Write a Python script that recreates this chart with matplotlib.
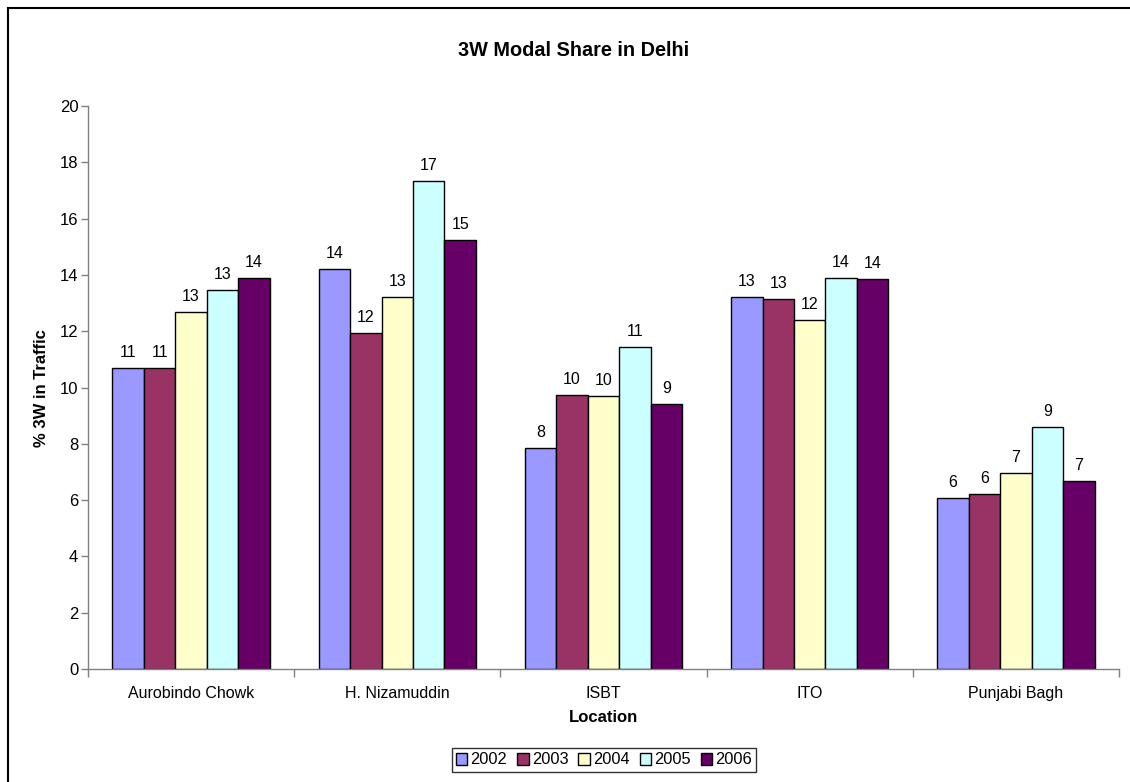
import matplotlib
matplotlib.use("Agg")
import matplotlib.pyplot as plt
import matplotlib.patches as mpatches
import numpy as np

plt.rcParams['font.family'] = ['Liberation Sans', 'DejaVu Sans']

locations = ["Aurobindo Chowk", "H. Nizamuddin", "ISBT", "ITO", "Punjabi Bagh"]
years = ["2002", "2003", "2004", "2005", "2006"]
share_2002 = [10.69, 14.21, 7.85, 13.21, 6.07]
share_2003 = [10.69, 11.94, 9.73, 13.14, 6.22]
share_2004 = [12.68, 13.21, 9.70, 12.40, 6.96]
share_2005 = [13.46, 17.34, 11.44, 13.89, 8.60]
share_2006 = [13.89, 15.24, 9.41, 13.85, 6.68]
colors = ["#9999FF", "#993366", "#FFFFCC", "#CCFFFF", "#660066"]

series = [share_2002, share_2003, share_2004, share_2005, share_2006]

W, H = 1130, 782
FS = 11.5
fig = plt.figure(figsize=(W / 100, H / 100), dpi=100)
ax = fig.add_axes([88 / W, (H - 669) / H, (1119 - 88) / W, (669 - 106) / H])

n = len(series)
bar_w = 0.1525
x = np.arange(len(locations))
for i, (vals, col, yr) in enumerate(zip(series, colors, years)):
    pos = x + (i - (n - 1) / 2) * bar_w
    bars = ax.bar(pos, vals, width=bar_w, color=col, edgecolor="black",
                  linewidth=1.0, label=yr, zorder=2)
    for b, v in zip(bars, vals):
        ax.annotate(f"{v:.0f}", (b.get_x() + b.get_width() / 2, v),
                    xytext=(0, 5.5), textcoords="offset points",
                    ha="center", va="bottom", fontsize=FS)

ax.set_xlim(-0.5, len(locations) - 0.5)
ax.set_ylim(0, 20)
ax.set_yticks(np.arange(0, 21, 2))
ax.tick_params(axis="y", direction="out", length=5, width=1, color="#808080",
               labelsize=FS + 0.5, pad=2)
ax.set_xticks(x)
ax.set_xticklabels(locations, fontsize=FS)
ax.tick_params(axis="x", length=0, pad=12)
# category boundary ticks
ax.set_xticks(np.arange(-0.5, len(locations)), minor=True)
ax.tick_params(axis="x", which="minor", direction="out", length=6, width=1,
               color="#808080")

for s in ["top", "right"]:
    ax.spines[s].set_visible(False)
for s in ["left", "bottom"]:
    ax.spines[s].set_color("#808080")
    ax.spines[s].set_linewidth(1.0)

fig.text(41.5 / W, 1 - 388 / H, "% 3W in Traffic", rotation=90, ha="center",
         va="center", fontsize=12, fontweight="bold")
fig.text(603 / W, 1 - 718 / H, "Location", ha="center", va="center",
         fontsize=12, fontweight="bold")
fig.text(574 / W, 1 - 50 / H, "3W Modal Share in Delhi", ha="center",
         va="center", fontsize=14.3, fontweight="bold")

handles = [mpatches.Patch(facecolor=c, edgecolor="black", linewidth=1.0, label=y)
           for c, y in zip(colors, years)]
leg = fig.legend(handles=handles, loc="center", bbox_to_anchor=(604 / W, 1 - 760 / H),
                 ncol=5, fontsize=FS + 0.3, frameon=True, fancybox=False,
                 handlelength=0.7, handleheight=0.7, handletextpad=0.2,
                 columnspacing=0.6, borderpad=0.25, borderaxespad=0)
leg.get_frame().set_edgecolor("black")
leg.get_frame().set_linewidth(1.0)

# chart border
fig.patches.append(mpatches.Rectangle((8 / W, -0.1), 1.2, (H - 8) / H + 0.1,
                                      transform=fig.transFigure, fill=False,
                                      edgecolor="black", linewidth=1.5))

fig.savefig("out.png", dpi=100)
